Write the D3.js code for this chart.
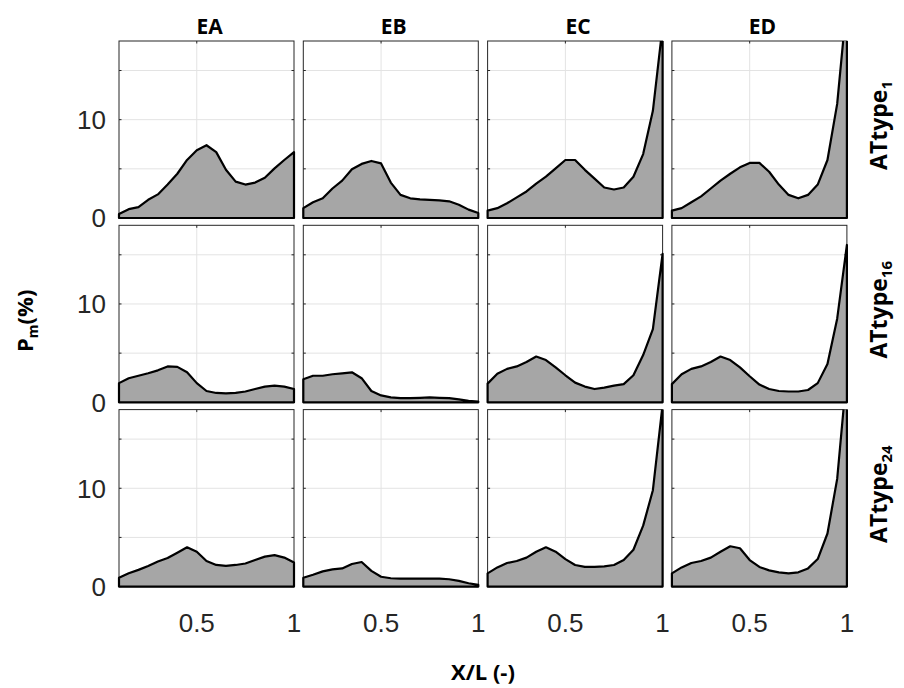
<!DOCTYPE html>
<html><head><meta charset="utf-8">
<script src="https://cdn.jsdelivr.net/npm/d3@7"></script>
<style>body{margin:0;background:#fff}svg{display:block}</style>
</head><body>
<svg id="c" width="904" height="688"></svg>
<script>
const columns = ["EA","EB","EC","ED"];
const rowNames = ["1","16","24"];
const xPos = [0.10,0.15,0.20,0.25,0.30,0.35,0.40,0.45,0.50,0.55,0.60,0.65,0.70,0.75,0.80,0.85,0.90,0.95,1.00];
const xTicks = [0.5, 1];
const xTickLabels = ["0.5","1"];
const yGrid = [5, 10, 15];
const yTickValues = [0, 10];
const yTickLabels = ["0","10"];

// row ATtype1
const EA_1 = [0.4,0.9,1.1,1.85,2.4,3.4,4.5,5.9,6.9,7.4,6.7,4.9,3.7,3.4,3.6,4.1,5.05,5.9,6.7];
const EB_1 = [1.0,1.6,2.0,3.0,3.8,4.95,5.5,5.8,5.55,3.6,2.35,2.0,1.9,1.85,1.8,1.7,1.35,0.85,0.5];
const EC_1 = [0.75,1.0,1.5,2.1,2.7,3.5,4.2,5.05,5.9,5.9,4.9,4.0,3.1,2.9,3.1,4.2,6.5,10.9,19.5];
const ED_1 = [0.75,1.0,1.6,2.2,3.0,3.8,4.5,5.15,5.6,5.6,4.7,3.4,2.35,2.0,2.35,3.4,5.9,11.6,22.0];
// row ATtype16
const EA_16 = [1.95,2.45,2.7,2.95,3.25,3.65,3.6,3.05,1.95,1.15,0.95,0.9,0.95,1.1,1.35,1.6,1.7,1.6,1.35];
const EB_16 = [2.35,2.7,2.7,2.85,2.95,3.05,2.45,1.15,0.7,0.5,0.42,0.42,0.46,0.5,0.46,0.42,0.3,0.15,0.08];
const EC_16 = [1.9,2.9,3.4,3.65,4.1,4.65,4.3,3.55,2.75,2.0,1.6,1.35,1.5,1.7,1.85,2.75,4.8,7.45,15.1];
const ED_16 = [1.85,2.85,3.4,3.65,4.1,4.65,4.3,3.55,2.65,1.8,1.35,1.15,1.1,1.1,1.25,1.95,3.9,8.5,16.0];
// row ATtype24
const EA_24 = [0.9,1.35,1.7,2.1,2.55,2.9,3.45,4.0,3.55,2.6,2.2,2.1,2.2,2.35,2.7,3.05,3.2,2.95,2.45];
const EB_24 = [0.9,1.2,1.55,1.75,1.85,2.3,2.5,1.6,1.0,0.85,0.82,0.82,0.82,0.82,0.82,0.75,0.58,0.34,0.17];
const EC_24 = [1.35,1.95,2.4,2.6,2.95,3.55,4.0,3.55,2.8,2.2,2.0,2.0,2.05,2.2,2.7,3.75,6.2,9.8,18.5];
const ED_24 = [1.35,1.95,2.4,2.6,2.95,3.55,4.1,3.9,2.7,2.0,1.65,1.45,1.35,1.45,1.85,2.8,5.4,10.95,21.8];

const series = [
  [EA_1, EB_1, EC_1, ED_1],
  [EA_16, EB_16, EC_16, ED_16],
  [EA_24, EB_24, EC_24, ED_24]
];

const svg = d3.select("#c");
const left0 = 119, top0 = 41, pw = 175, ph = 177, step = 184.3;
const axisColor = "#262626";
const tickFont = "'Liberation Sans', Arial, sans-serif";
const boldFont = "'Open Sans', 'DejaVu Sans', sans-serif";

const defs = svg.append("defs");

series.forEach((row, ri) => {
  row.forEach((vals, ci) => {
    const x0 = left0 + ci * step, y0 = top0 + ri * step;
    const x = d3.scaleLinear().domain([0.1, 1]).range([x0, x0 + pw]);
    const y = d3.scaleLinear().domain([0, 18]).range([y0 + ph, y0]);
    const id = `clip-${ri}-${ci}`;
    defs.append("clipPath").attr("id", id).append("rect")
      .attr("x", x0 - 3).attr("y", y0).attr("width", pw + 6).attr("height", ph + 3);
    const g = svg.append("g");
    g.append("rect").attr("x", x0).attr("y", y0).attr("width", pw).attr("height", ph).attr("fill", "#fff");
    // grid
    g.selectAll(".hg").data(yGrid).join("line")
      .attr("x1", x0).attr("x2", x0 + pw)
      .attr("y1", d => y(d)).attr("y2", d => y(d))
      .attr("stroke", "#e3e3e3").attr("stroke-width", 1);
    g.selectAll(".vg").data([0.5]).join("line")
      .attr("x1", d => x(d)).attr("x2", d => x(d))
      .attr("y1", y0).attr("y2", y0 + ph)
      .attr("stroke", "#e3e3e3").attr("stroke-width", 1);
    // box
    g.append("rect").attr("x", x0).attr("y", y0).attr("width", pw).attr("height", ph)
      .attr("fill", "none").attr("stroke", axisColor).attr("stroke-width", 1);
    // inner ticks
    const tl = 2.5;
    yGrid.concat([0]).forEach(v => {
      g.append("line").attr("x1", x0).attr("x2", x0 + tl).attr("y1", y(v)).attr("y2", y(v)).attr("stroke", axisColor);
      g.append("line").attr("x1", x0 + pw).attr("x2", x0 + pw - tl).attr("y1", y(v)).attr("y2", y(v)).attr("stroke", axisColor);
    });
    [0.5].forEach(v => {
      g.append("line").attr("x1", x(v)).attr("x2", x(v)).attr("y1", y0 + ph).attr("y2", y0 + ph - tl).attr("stroke", axisColor);
      g.append("line").attr("x1", x(v)).attr("x2", x(v)).attr("y1", y0).attr("y2", y0 + tl).attr("stroke", axisColor);
    });
    // area polygon
    const pts = [[xPos[0], 0]].concat(xPos.map((xv, i) => [xv, vals[i]])).concat([[xPos[xPos.length - 1], 0]]);
    const line = d3.line().x(d => x(d[0])).y(d => y(d[1]));
    g.append("path").attr("clip-path", `url(#${id})`)
      .attr("d", line(pts) + "Z")
      .attr("fill", "#a6a6a6").attr("stroke", "#000").attr("stroke-width", 2.2)
      .attr("stroke-linejoin", "round");
    // y tick labels on first column
    if (ci === 0) {
      g.selectAll(".yl").data(yTickValues).join("text")
        .attr("x", x0 - 13).attr("y", d => y(d)).attr("dy", "0.36em")
        .attr("text-anchor", "end").attr("font-family", tickFont).attr("font-size", 26)
        .attr("fill", axisColor).text((d, i) => yTickLabels[i]);
    }
    // x tick labels on bottom row
    if (ri === 2) {
      g.selectAll(".xl").data(xTicks).join("text")
        .attr("x", d => x(d)).attr("y", y0 + ph + 36).attr("dy", "0.36em")
        .attr("text-anchor", "middle").attr("font-family", tickFont).attr("font-size", 26)
        .attr("fill", axisColor).text((d, i) => xTickLabels[i]);
    }
    if (ri === 0) {
      g.append("text").attr("x", x0 + pw / 2 + 3).attr("y", y0 - 15).attr("dy", "0.36em")
        .attr("text-anchor", "middle").attr("font-family", boldFont).attr("font-weight", "bold")
        .attr("font-size", 21).attr("fill", "#000").text(columns[ci]);
    }
    if (ci === 3) {
      const t = g.append("text")
        .attr("transform", `translate(${x0 + pw + 40},${y0 + ph / 2 - 4}) rotate(-90)`)
        .attr("text-anchor", "middle").attr("font-family", boldFont).attr("font-weight", "bold")
        .attr("font-size", 23).attr("fill", "#000");
      t.append("tspan").text("ATtype");
      t.append("tspan").attr("font-size", 15).attr("dy", 5).text(rowNames[ri]);
    }
  });
});

// axis titles
const gridMidY = top0 + (2 * step + ph) / 2;
const yl = svg.append("text")
  .attr("transform", `translate(33,${gridMidY + 7}) rotate(-90)`)
  .attr("text-anchor", "middle").attr("font-family", boldFont).attr("font-weight", "bold")
  .attr("font-size", 22).attr("fill", "#000");
yl.append("tspan").text("P");
yl.append("tspan").attr("font-size", 14).attr("dy", 5).text("m");
yl.append("tspan").attr("dy", -5).text("(%)");

svg.append("text").attr("x", left0 + (3 * step + pw) / 2).attr("y", 672).attr("dy", "0.36em")
  .attr("text-anchor", "middle").attr("font-family", boldFont).attr("font-weight", "bold")
  .attr("font-size", 22).attr("fill", "#000").text("X/L (-)");
</script>
</body></html>
